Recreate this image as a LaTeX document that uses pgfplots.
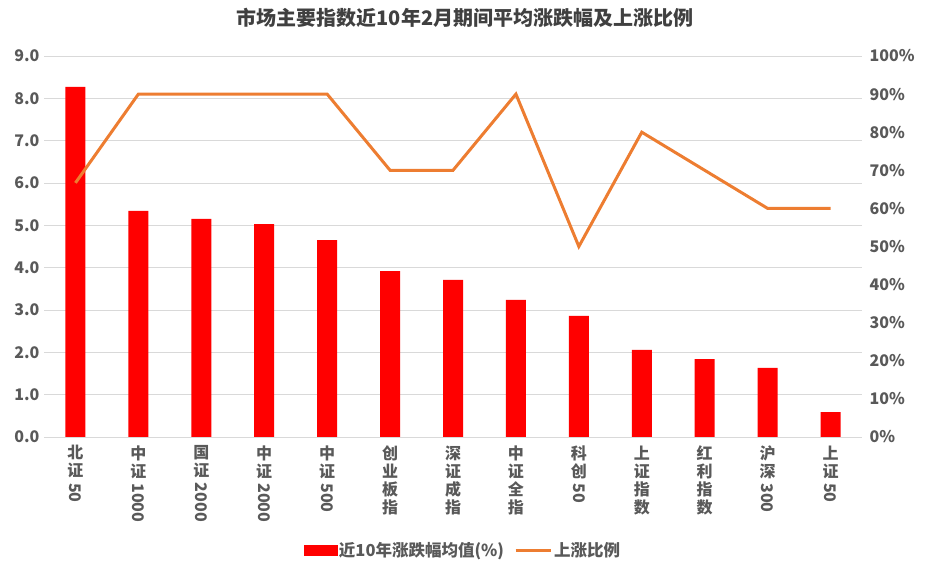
\documentclass[border=0pt]{standalone}
\usepackage{pgfplots}
\pgfplotsset{compat=1.18}
\usepackage{fontspec}
\setmainfont{Noto Sans CJK SC}
\definecolor{txt}{HTML}{595959}
\definecolor{ttl}{HTML}{404040}
\definecolor{barred}{HTML}{FF0000}
\definecolor{lineorange}{HTML}{ED7D31}
\definecolor{gridc}{HTML}{D9D9D9}
\newcommand{\rd}[1]{\raisebox{0.74em}{\rotatebox{-90}{#1}}}
\begin{document}
\begin{tikzpicture}[x=1pt,y=1pt]
\useasboundingbox (0,0) rectangle (928,575);
\node[font=\fontsize{20}{22}\selectfont\bfseries,text=ttl] at (465,557) {市场主要指数近10年2月期间平均涨跌幅及上涨比例};
\begin{axis}[
 at={(44pt,138pt)},anchor=south west,
 scale only axis,width=818pt,height=381pt,
 xmin=-0.5,xmax=12.5,ymin=0,ymax=9,
 ybar,bar width=20pt,
 axis x line*=bottom,axis y line*=left,
 y axis line style={draw=none},
 x axis line style={gridc,line width=0.8pt},
 major tick length=0pt,
 ytick={0,1,...,9},
 ymajorgrids,grid style={gridc,line width=0.7pt},
 yticklabel style={/pgf/number format/fixed,/pgf/number format/fixed zerofill,/pgf/number format/precision=1,/pgf/number format/assume math mode=true,font=\fontsize{16}{18}\selectfont\bfseries,text=txt,xshift=-1pt},
 xtick=data,
 xticklabels={
  {北\\证\\\rd{50}},
  {中\\证\\\rd{1000}},
  {国\\证\\\rd{2000}},
  {中\\证\\\rd{2000}},
  {中\\证\\\rd{500}},
  {创\\业\\板\\指},
  {深\\证\\成\\指},
  {中\\证\\全\\指},
  {科\\创\\\rd{50}},
  {上\\证\\指\\数},
  {红\\利\\指\\数},
  {沪\\深\\\rd{300}},
  {上\\证\\\rd{50}}},
 xticklabel style={font=\fontsize{16}{18}\selectfont\bfseries,text=txt,align=center,anchor=north,yshift=-5pt},
]
\addplot[fill=barred,draw=none] coordinates {
 (0,8.27) (1,5.34) (2,5.15) (3,5.03) (4,4.65) (5,3.92) (6,3.71)
 (7,3.24) (8,2.86) (9,2.06) (10,1.84) (11,1.63) (12,0.59)};
\end{axis}
\begin{axis}[
 at={(44pt,138pt)},anchor=south west,
 scale only axis,width=818pt,height=381pt,
 xmin=-0.5,xmax=12.5,ymin=0,ymax=100,
 axis y line*=right,hide x axis,
 y axis line style={draw=none},
 major tick length=0pt,
 ytick={0,10,...,100},
 yticklabel={\pgfmathprintnumber{\tick}\%},
 yticklabel style={/pgf/number format/assume math mode=true,font=\fontsize{16}{18}\selectfont\bfseries,text=txt,anchor=west,xshift=4pt},
 legend style={at={(0.512,-0.297)},anchor=center,draw=none,legend columns=-1,
  font=\fontsize{16.5}{18}\selectfont\bfseries,text=txt,
  /tikz/every even column/.append style={column sep=8pt}},
]
\addlegendimage{legend image code/.code={\fill[barred] (0pt,-5pt) rectangle (33pt,5pt);}}
\addlegendentry{近10年涨跌幅均值(\%)}
\addlegendimage{legend image code/.code={\draw[lineorange,line width=3pt] (0pt,0pt) -- (35pt,0pt);}}
\addlegendentry{上涨比例}
\addplot[lineorange,line width=3pt,mark=none,forget plot] coordinates {
 (0,66.7) (1,90) (2,90) (3,90) (4,90) (5,70) (6,70)
 (7,90) (8,50) (9,80) (10,70) (11,60) (12,60)};
\end{axis}
\end{tikzpicture}
\end{document}
